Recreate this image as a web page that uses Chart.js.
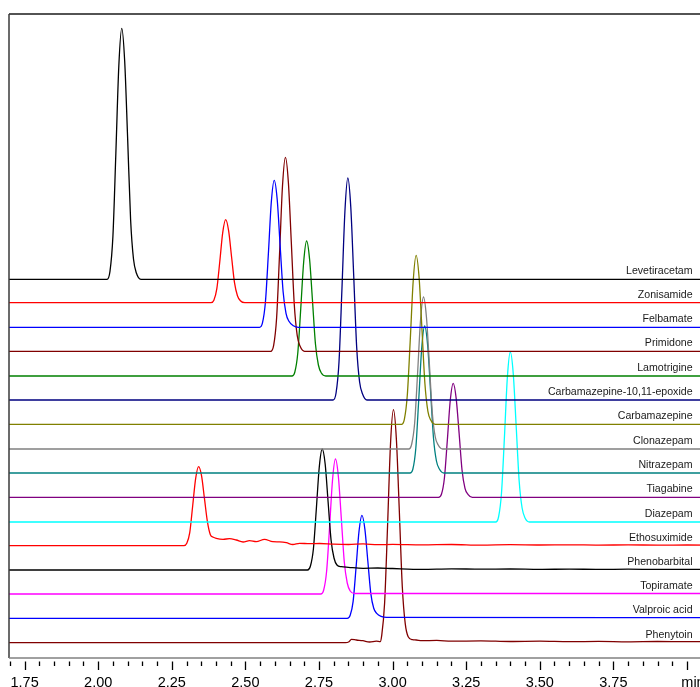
<!DOCTYPE html>
<html>
<head>
<meta charset="utf-8">
<script src="https://cdn.jsdelivr.net/npm/chart.js@4.4.1/dist/chart.umd.min.js"></script>
<style>
html,body{margin:0;padding:0;overflow:hidden;background:#fff;width:700px;height:687px;}
#wrap{position:absolute;left:0;top:0;width:740px;height:687px;}
</style>
</head>
<body>
<div id="wrap"><canvas id="c" width="740" height="687"></canvas></div>
<script>
// ---- DATA (retention time in min, signal above each trace's own baseline) ----
const compounds = ["Levetiracetam","Zonisamide","Felbamate","Primidone","Lamotrigine",
  "Carbamazepine-10,11-epoxide","Carbamazepine","Clonazepam","Nitrazepam","Tiagabine",
  "Diazepam","Ethosuximide","Phenobarbital","Topiramate","Valproic acid","Phenytoin"];

// stacking offset of each trace baseline (signal units)
const baselines = [378.7,355.3,330.7,306.7,282,258,233.7,209,185,160.7,136,112.3,88,64,39.7,15.3];

const levetiracetam = [[1.69,0],[2.030,0],[2.040,8],[2.050,43],[2.060,126],[2.070,213],[2.080,251],[2.090,218],[2.100,141],[2.110,60],[2.120,20],[2.130,6],[2.145,0],[4.10,0]];
const zonisamide = [[1.69,0],[2.383,0],[2.393,2.5],[2.403,14],[2.413,41],[2.423,70],[2.433,83],[2.443,72],[2.453,46],[2.463,20],[2.473,7],[2.483,2],[2.498,0],[4.10,0]];
const felbamate = [[1.69,0],[2.548,0],[2.558,4.4],[2.568,25],[2.578,73],[2.588,125],[2.598,147],[2.608,128],[2.618,82],[2.628,36],[2.638,14],[2.648,6],[2.663,1.5],[2.680,0],[4.10,0]];
const primidone = [[1.69,0],[2.586,0],[2.596,6],[2.606,33],[2.616,97],[2.626,165],[2.636,194],[2.646,169],[2.656,109],[2.666,47],[2.676,16],[2.686,5],[2.701,0],[4.10,0]];
const lamotrigine = [[1.69,0],[2.658,0],[2.668,4],[2.678,23],[2.688,67],[2.698,114],[2.708,135],[2.718,117],[2.728,75],[2.738,32],[2.748,11],[2.758,3],[2.773,0],[4.10,0]];
const epoxide = [[1.69,0],[2.798,0],[2.808,7],[2.818,38],[2.828,111],[2.838,188],[2.848,222],[2.858,193],[2.868,124],[2.878,53],[2.888,18],[2.898,6],[2.913,0],[4.10,0]];
const carbamazepine = [[1.69,0],[3.030,0],[3.040,5],[3.050,29],[3.060,84],[3.070,143],[3.080,169],[3.090,147],[3.100,94],[3.110,40],[3.120,13],[3.130,4],[3.145,0],[4.10,0]];
const clonazepam = [[1.69,0],[3.055,0],[3.065,5],[3.075,26],[3.085,76],[3.095,129],[3.105,152],[3.115,132],[3.125,85],[3.135,36],[3.145,12],[3.155,4],[3.170,0],[4.10,0]];
const nitrazepam = [[1.69,0],[3.059,0],[3.069,4],[3.079,25],[3.089,74],[3.099,125],[3.109,147],[3.119,128],[3.129,82],[3.139,35],[3.149,12],[3.159,4],[3.174,0],[4.10,0]];
const tiagabine = [[1.69,0],[3.156,0],[3.166,3],[3.176,19],[3.186,57],[3.196,97],[3.206,114],[3.216,99],[3.226,64],[3.236,27],[3.246,9],[3.256,3],[3.271,0],[4.10,0]];
const diazepam = [[1.69,0],[3.350,0],[3.360,5],[3.370,29],[3.380,85],[3.390,145],[3.400,170],[3.410,148],[3.420,95],[3.430,41],[3.440,14],[3.450,4],[3.465,0],[4.10,0]];
const ethosuximide = [[1.69,0],[2.291,0],[2.301,2.4],[2.311,13],[2.321,40],[2.331,67],[2.341,79],[2.351,70],[2.361,47],[2.371,24],[2.381,11],[2.391,8.5],[2.401,7.4],
  [2.424,6.4],[2.446,7.0],[2.469,5.7],[2.492,3.7],[2.514,5.0],[2.537,4.0],[2.565,6.4],[2.593,4.0],[2.616,3.8],[2.639,3.0],[2.661,1.2],[2.684,2.4],[2.718,2.0],[2.752,2.2],
  [2.80,1.5],[2.85,1.2],[2.90,1.8],[2.95,1.0],[3.00,1.3],[3.10,0.8],[3.20,1.2],[3.30,0.6],[3.40,1.0],[3.50,0.7],[3.60,0.9],[3.70,0.6],[3.80,0.8],[3.90,0.6],[4.00,0.7],[4.10,0.6]];
const phenobarbital = [[1.69,0],[2.711,0],[2.721,4],[2.731,21],[2.741,61],[2.751,103],[2.761,121],[2.771,106],[2.781,68],[2.791,30],[2.801,12],[2.811,5],[2.826,3.3],
  [2.85,2.7],[2.90,1.7],[2.95,2.0],[3.00,1.5],[3.10,0.7],[3.20,1.2],[3.30,0.8],[3.40,1.0],[3.50,0.6],[3.60,0.9],[3.70,0.6],[3.80,0.8],[3.90,0.6],[4.00,0.7],[4.10,0.6]];
const topiramate = [[1.69,0],[2.756,0],[2.766,4],[2.776,23],[2.786,67],[2.796,114],[2.806,135],[2.816,117],[2.826,75],[2.836,32],[2.846,11],[2.856,3],[2.871,0.5],[4.10,0.5]];
const valproicAcid = [[1.69,0],[2.846,0],[2.856,3],[2.866,17],[2.876,51],[2.886,87],[2.896,103],[2.906,89],[2.916,57],[2.926,25],[2.936,10],[2.946,5],[2.961,2],[2.980,1],[4.10,0.7]];
const phenytoin = [[1.69,0],[2.840,0],[2.852,1],[2.860,3.4],[2.877,2.7],[2.899,2],[2.922,0.7],[2.945,1.5],[2.958,1],[2.963,7],[2.973,40],[2.983,117],[2.993,199],[3.003,233],
  [3.013,203],[3.023,131],[3.033,56],[3.043,19],[3.053,6],[3.068,3],[3.08,2.7],[3.10,2],[3.15,2.3],[3.20,1.5],[3.30,1.8],[3.40,1.2],[3.50,1.5],[3.60,1.0],[3.70,1.3],[3.80,0.9],[3.90,1.2],[4.00,1.0],[4.10,1.0]];

const traces = [levetiracetam,zonisamide,felbamate,primidone,lamotrigine,epoxide,carbamazepine,
  clonazepam,nitrazepam,tiagabine,diazepam,ethosuximide,phenobarbital,topiramate,valproicAcid,phenytoin];

// axis
const xMin = 1.697, xMax = 4.10;
const tickStep = 0.05;
const majorTickLabels = {"1.75":"1.75","2.00":"2.00","2.25":"2.25","2.50":"2.50","2.75":"2.75","3.00":"3.00","3.25":"3.25","3.50":"3.50","3.75":"3.75","4.00":"   min"};

// ---- STYLE ----
const colors = ["#000000","#ff0000","#0000ff","#800000","#008000","#000080","#808000","#808080",
  "#008080","#800080","#00ffff","#ff0000","#000000","#ff00ff","#0000ff","#800000"];

const datasets = traces.map((tr, i) => ({
  label: compounds[i],
  data: tr.map(p => ({x: p[0], y: baselines[i] + p[1]})),
  borderColor: colors[i],
  borderWidth: 1.3,
  pointRadius: 0,
  fill: false,
  cubicInterpolationMode: 'monotone'
}));

const framePlugin = {
  id: 'frame',
  afterDraw(chart) {
    const {ctx, chartArea: a, scales: {x, y}} = chart;
    ctx.save();
    ctx.lineCap = 'butt';
    ctx.strokeStyle = '#1a1a1a'; ctx.lineWidth = 1.5;
    ctx.beginPath(); ctx.moveTo(a.left, a.top); ctx.lineTo(a.right, a.top); ctx.stroke();
    ctx.strokeStyle = '#3a3a3a';
    ctx.beginPath(); ctx.moveTo(a.left, a.top); ctx.lineTo(a.left, a.bottom); ctx.stroke();
    ctx.strokeStyle = '#808080';
    ctx.beginPath(); ctx.moveTo(a.left, a.bottom); ctx.lineTo(a.right, a.bottom); ctx.stroke();
    ctx.strokeStyle = '#000'; ctx.lineWidth = 1.3;
    x.ticks.forEach(t => {
      const v = t.value;
      const k = Math.round(v / tickStep);
      if (Math.abs(v / tickStep - k) > 1e-6) return;
      const major = (Math.round(v * 100) % 25) === 0;
      const px = Math.round(x.getPixelForValue(v)) + 0.5;
      ctx.beginPath();
      ctx.moveTo(px, a.bottom + 3.5);
      ctx.lineTo(px, a.bottom + (major ? 12 : 8));
      ctx.stroke();
    });
    ctx.fillStyle = '#1a1a1a';
    ctx.font = '10.6px "Liberation Sans", Arial, sans-serif';
    ctx.textAlign = 'right';
    ctx.textBaseline = 'alphabetic';
    compounds.forEach((name, i) => {
      ctx.fillText(name, x.getPixelForValue(4.019), y.getPixelForValue(baselines[i]) - 5);
    });
    ctx.restore();
  }
};

new Chart(document.getElementById('c'), {
  type: 'line',
  data: {datasets},
  options: {
    responsive: false,
    animation: false,
    devicePixelRatio: 1,
    layout: {padding: {left: 9, top: 14, right: 23.6, bottom: 0}},
    plugins: {legend: {display: false}, tooltip: {enabled: false}},
    scales: {
      x: {
        type: 'linear', min: xMin, max: xMax,
        border: {display: false},
        grid: {display: true, drawOnChartArea: false, drawTicks: true, tickLength: 12, tickColor: 'rgba(0,0,0,0)'},
        afterFit(scale) { scale.height = 29; },
        ticks: {
          stepSize: tickStep, includeBounds: false, autoSkip: false, maxRotation: 0, padding: 4,
          color: '#000',
          font: {family: '"Liberation Sans Narrow", "Arial Narrow", "Liberation Sans", Arial', size: 14.5},
          callback(v) { const s = (Math.round(v*100)/100).toFixed(2); return majorTickLabels[s] || ''; }
        }
      },
      y: {type: 'linear', min: 0, max: 644, display: false}
    }
  },
  plugins: [framePlugin]
});
</script>
</body>
</html>
